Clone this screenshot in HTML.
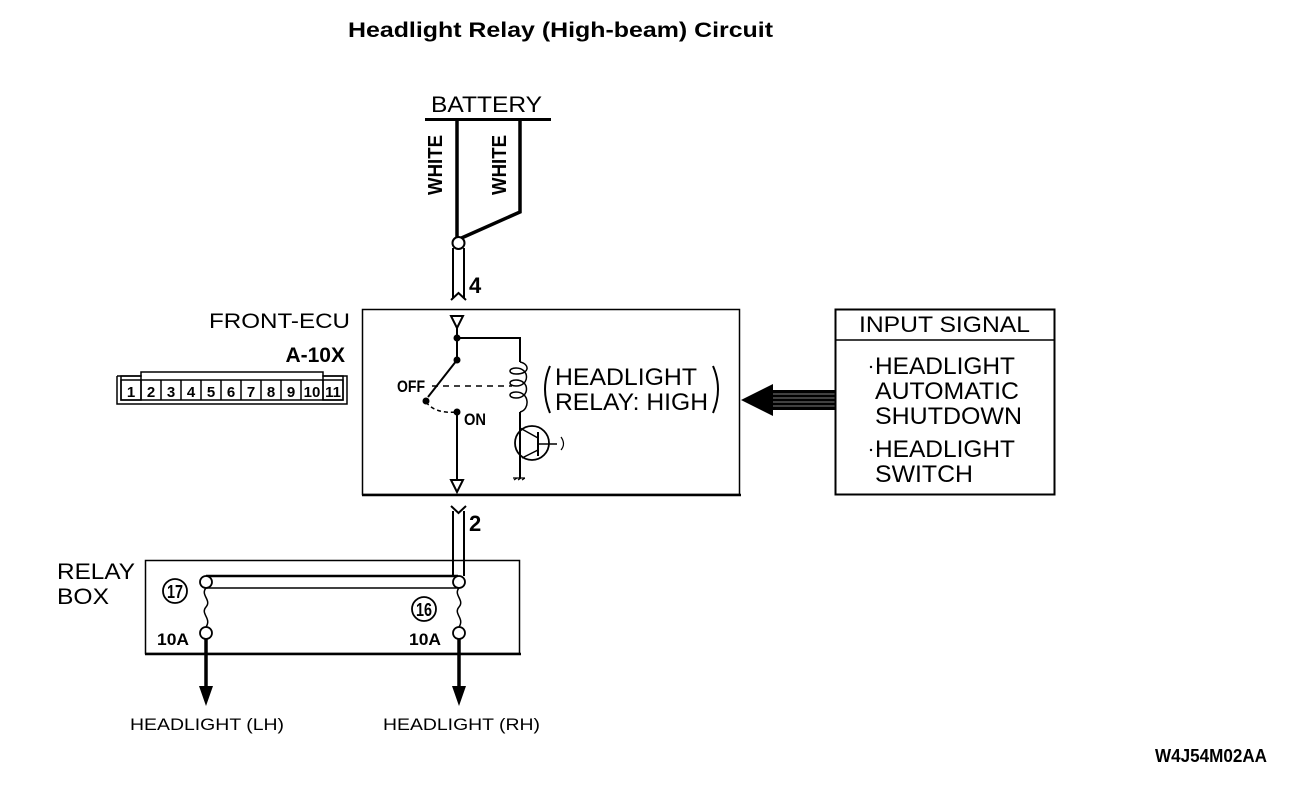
<!DOCTYPE html>
<html><head><meta charset="utf-8"><style>
html,body{margin:0;padding:0;background:#fff;}
svg{display:block;}
text{font-family:"Liberation Sans",sans-serif;fill:#000;}
.b{font-weight:bold;}
.n{font-family:"Liberation Sans Narrow","Liberation Sans",sans-serif;font-weight:bold;}
</style></head><body>
<svg width="1312" height="790" viewBox="0 0 1312 790" xmlns="http://www.w3.org/2000/svg">
<rect width="1312" height="790" fill="#fff"/>
<text x="348" y="37" class="b" font-size="21" textLength="425" lengthAdjust="spacingAndGlyphs">Headlight Relay (High-beam) Circuit</text>

<text x="431" y="112" font-size="22" textLength="111" lengthAdjust="spacingAndGlyphs">BATTERY</text>
<line x1="425" y1="119.5" x2="551" y2="119.5" stroke="#000" stroke-width="3"/>
<g stroke="#000" stroke-width="3.5" fill="none">
<line x1="457" y1="120" x2="457" y2="240"/>
<polyline points="520,120 520,212 457,240"/>
</g>
<text transform="translate(442,165) rotate(-90)" text-anchor="middle" class="n" font-size="20" textLength="60" lengthAdjust="spacingAndGlyphs">WHITE</text>
<text transform="translate(506,165) rotate(-90)" text-anchor="middle" class="n" font-size="20" textLength="60" lengthAdjust="spacingAndGlyphs">WHITE</text>
<g stroke="#000" stroke-width="2" fill="none">
<line x1="453" y1="248" x2="453" y2="298"/>
<line x1="464" y1="248" x2="464" y2="298"/>
<polyline points="451,300 458.5,293 466,300"/>
<circle cx="458.5" cy="243" r="6" fill="#fff"/>
</g>
<text x="469" y="293" class="n" font-size="22">4</text>

<text x="209" y="328" font-size="21" textLength="141" lengthAdjust="spacingAndGlyphs">FRONT-ECU</text>
<text x="345" y="362" text-anchor="end" class="n" font-size="21">A-10X</text>
<g stroke="#000" stroke-width="1.5" fill="none">
<polyline points="117,376 117,404 347,404 347,376 323,376 323,372 141,372 141,376 117,376"/>
<rect x="121" y="380" width="222" height="20"/>
<rect x="121" y="376" width="20" height="24"/>
<rect x="323" y="376" width="20" height="24"/>
</g>
<g stroke="#000" stroke-width="1.5">
<line x1="141" y1="380" x2="141" y2="400"/><line x1="161" y1="380" x2="161" y2="400"/><line x1="181" y1="380" x2="181" y2="400"/><line x1="201" y1="380" x2="201" y2="400"/><line x1="221" y1="380" x2="221" y2="400"/><line x1="241" y1="380" x2="241" y2="400"/><line x1="261" y1="380" x2="261" y2="400"/><line x1="281" y1="380" x2="281" y2="400"/><line x1="301" y1="380" x2="301" y2="400"/><line x1="323" y1="380" x2="323" y2="400"/>
</g>
<g class="n" font-size="15" text-anchor="middle">
<text x="131" y="397">1</text><text x="151" y="397">2</text><text x="171" y="397">3</text><text x="191" y="397">4</text><text x="211" y="397">5</text><text x="231" y="397">6</text><text x="251" y="397">7</text><text x="271" y="397">8</text><text x="291" y="397">9</text><text x="312" y="397">10</text><text x="333" y="397">11</text>
</g>

<rect x="362.5" y="309.5" width="377" height="185" fill="none" stroke="#000" stroke-width="1.5"/>
<line x1="362" y1="495" x2="741" y2="495" stroke="#000" stroke-width="2.5"/>
<g stroke="#000" stroke-width="2" fill="none">
<polygon points="451,316 463,316 457,328" fill="#fff"/>
<polyline points="457,328 457,360"/>
<polyline points="457,338 520,338 520,362"/>
<line x1="457" y1="360" x2="428" y2="397"/>
<line x1="457" y1="412" x2="457" y2="480"/>
<polygon points="451,480 463,480 457,492" fill="#fff"/>
<line x1="432" y1="386" x2="512" y2="386" stroke-dasharray="6,5" stroke-width="1.5"/>
<path d="M426,402 Q435,414 457,412" stroke-dasharray="4,3" stroke-width="1.5"/>
<path d="M520,362 C530,364 530,374 516,374 C508,374 508,368 516,368 C530,368 530,386 516,386 C508,386 508,380 516,380 C530,380 530,398 516,398 C508,398 508,392 516,392 C530,392 530,410 520,412" stroke-width="1.5"/>
<line x1="520" y1="412" x2="520" y2="478"/>
<circle cx="532" cy="443" r="17" stroke-width="1.8"/>
<line x1="538" y1="432" x2="538" y2="456"/>
<line x1="538" y1="444" x2="557" y2="444" stroke-width="1.5"/>
<line x1="520" y1="428" x2="538" y2="438" stroke-width="1.5"/>
<line x1="538" y1="450" x2="522" y2="458" stroke-width="1.5"/>
<path d="M561,437 Q566,444 561,450" stroke-width="1.2"/>
<path d="M513,478 L525,478 M514,480 l3,-2 M518,480 l3,-2 M522,480 l3,-2" stroke-width="1.2"/>
</g>
<g fill="#000">
<circle cx="457" cy="338" r="3.5"/><circle cx="457" cy="360" r="3.5"/><circle cx="426" cy="401" r="3.5"/><circle cx="457" cy="412" r="3.5"/>
</g>
<text x="397" y="392" class="n" font-size="17" textLength="28" lengthAdjust="spacingAndGlyphs">OFF</text>
<text x="464" y="425" class="n" font-size="17" textLength="22" lengthAdjust="spacingAndGlyphs">ON</text>
<text x="555" y="385" font-size="24" textLength="142" lengthAdjust="spacingAndGlyphs">HEADLIGHT</text>
<text x="555" y="410" font-size="24" textLength="153" lengthAdjust="spacingAndGlyphs">RELAY: HIGH</text>
<path d="M550,366 Q540,389 550,413" fill="none" stroke="#000" stroke-width="2"/>
<path d="M713,366 Q723,389 713,413" fill="none" stroke="#000" stroke-width="2"/>

<polygon points="741,400 773,384 773,416" fill="#000"/>
<rect x="772" y="390" width="63" height="20" fill="#000"/>
<g stroke="#fff" stroke-width="0.6">
<line x1="773" y1="394" x2="835" y2="394"/><line x1="773" y1="398" x2="835" y2="398"/><line x1="773" y1="402" x2="835" y2="402"/><line x1="773" y1="406" x2="835" y2="406"/>
</g>

<rect x="835.5" y="309.5" width="219" height="185" fill="none" stroke="#000" stroke-width="2"/>
<line x1="835" y1="340" x2="1055" y2="340" stroke="#000" stroke-width="1.5"/>
<text x="859" y="332" font-size="22" textLength="171" lengthAdjust="spacingAndGlyphs">INPUT SIGNAL</text>
<g font-size="24">
<text x="875" y="374" textLength="140" lengthAdjust="spacingAndGlyphs">HEADLIGHT</text>
<text x="875" y="399" textLength="144" lengthAdjust="spacingAndGlyphs">AUTOMATIC</text>
<text x="875" y="424" textLength="147" lengthAdjust="spacingAndGlyphs">SHUTDOWN</text>
<text x="875" y="457" textLength="140" lengthAdjust="spacingAndGlyphs">HEADLIGHT</text>
<text x="875" y="482" textLength="98" lengthAdjust="spacingAndGlyphs">SWITCH</text>
</g>
<circle cx="871" cy="367" r="1.2" fill="#000"/><circle cx="871" cy="450" r="1.2" fill="#000"/>

<g stroke="#000" stroke-width="2" fill="none">
<polyline points="451,506 458.5,513 466,506"/>
<line x1="453" y1="511" x2="453" y2="576"/>
<line x1="464" y1="511" x2="464" y2="576"/>
</g>
<text x="469" y="531" class="n" font-size="22">2</text>

<text x="57" y="579" font-size="22" textLength="78" lengthAdjust="spacingAndGlyphs">RELAY</text>
<text x="57" y="604" font-size="22" textLength="52" lengthAdjust="spacingAndGlyphs">BOX</text>
<rect x="145.5" y="560.5" width="374" height="93" fill="none" stroke="#000" stroke-width="1.5"/>
<line x1="145" y1="654" x2="521" y2="654" stroke="#000" stroke-width="2.5"/>
<g stroke="#000" fill="none">
<line x1="206" y1="576" x2="458" y2="576" stroke-width="2.5"/>
<line x1="206" y1="588" x2="458" y2="588" stroke-width="1.5"/>
<path d="M206,588 C200,595 212,600 206,607 C200,614 212,618 206,627" stroke-width="1.5"/>
<path d="M459,588 C453,595 465,600 459,607 C453,614 465,618 459,627" stroke-width="1.5"/>
<circle cx="206" cy="582" r="6" fill="#fff" stroke-width="1.8"/>
<circle cx="459" cy="582" r="6" fill="#fff" stroke-width="1.8"/>
<circle cx="206" cy="633" r="6" fill="#fff" stroke-width="1.8"/>
<circle cx="459" cy="633" r="6" fill="#fff" stroke-width="1.8"/>
<circle cx="175" cy="591" r="12" stroke-width="1.8"/>
<circle cx="424" cy="609" r="12" stroke-width="1.8"/>
<line x1="206" y1="639" x2="206" y2="690" stroke-width="3.5"/>
<line x1="459" y1="639" x2="459" y2="690" stroke-width="3.5"/>
</g>
<polygon points="199,686 213,686 206,706" fill="#000"/>
<polygon points="452,686 466,686 459,706" fill="#000"/>
<text x="175" y="598" text-anchor="middle" class="n" font-size="18" textLength="16" lengthAdjust="spacingAndGlyphs">17</text>
<text x="424" y="616" text-anchor="middle" class="n" font-size="18" textLength="16" lengthAdjust="spacingAndGlyphs">16</text>
<text x="157" y="645" class="n" font-size="17" textLength="32" lengthAdjust="spacingAndGlyphs">10A</text>
<text x="409" y="645" class="n" font-size="17" textLength="32" lengthAdjust="spacingAndGlyphs">10A</text>
<text x="130" y="730" font-size="17" textLength="154" lengthAdjust="spacingAndGlyphs">HEADLIGHT (LH)</text>
<text x="383" y="730" font-size="17" textLength="157" lengthAdjust="spacingAndGlyphs">HEADLIGHT (RH)</text>

<text x="1155" y="762" class="n" font-size="18" textLength="112" lengthAdjust="spacingAndGlyphs">W4J54M02AA</text>
</svg>
</body></html>
